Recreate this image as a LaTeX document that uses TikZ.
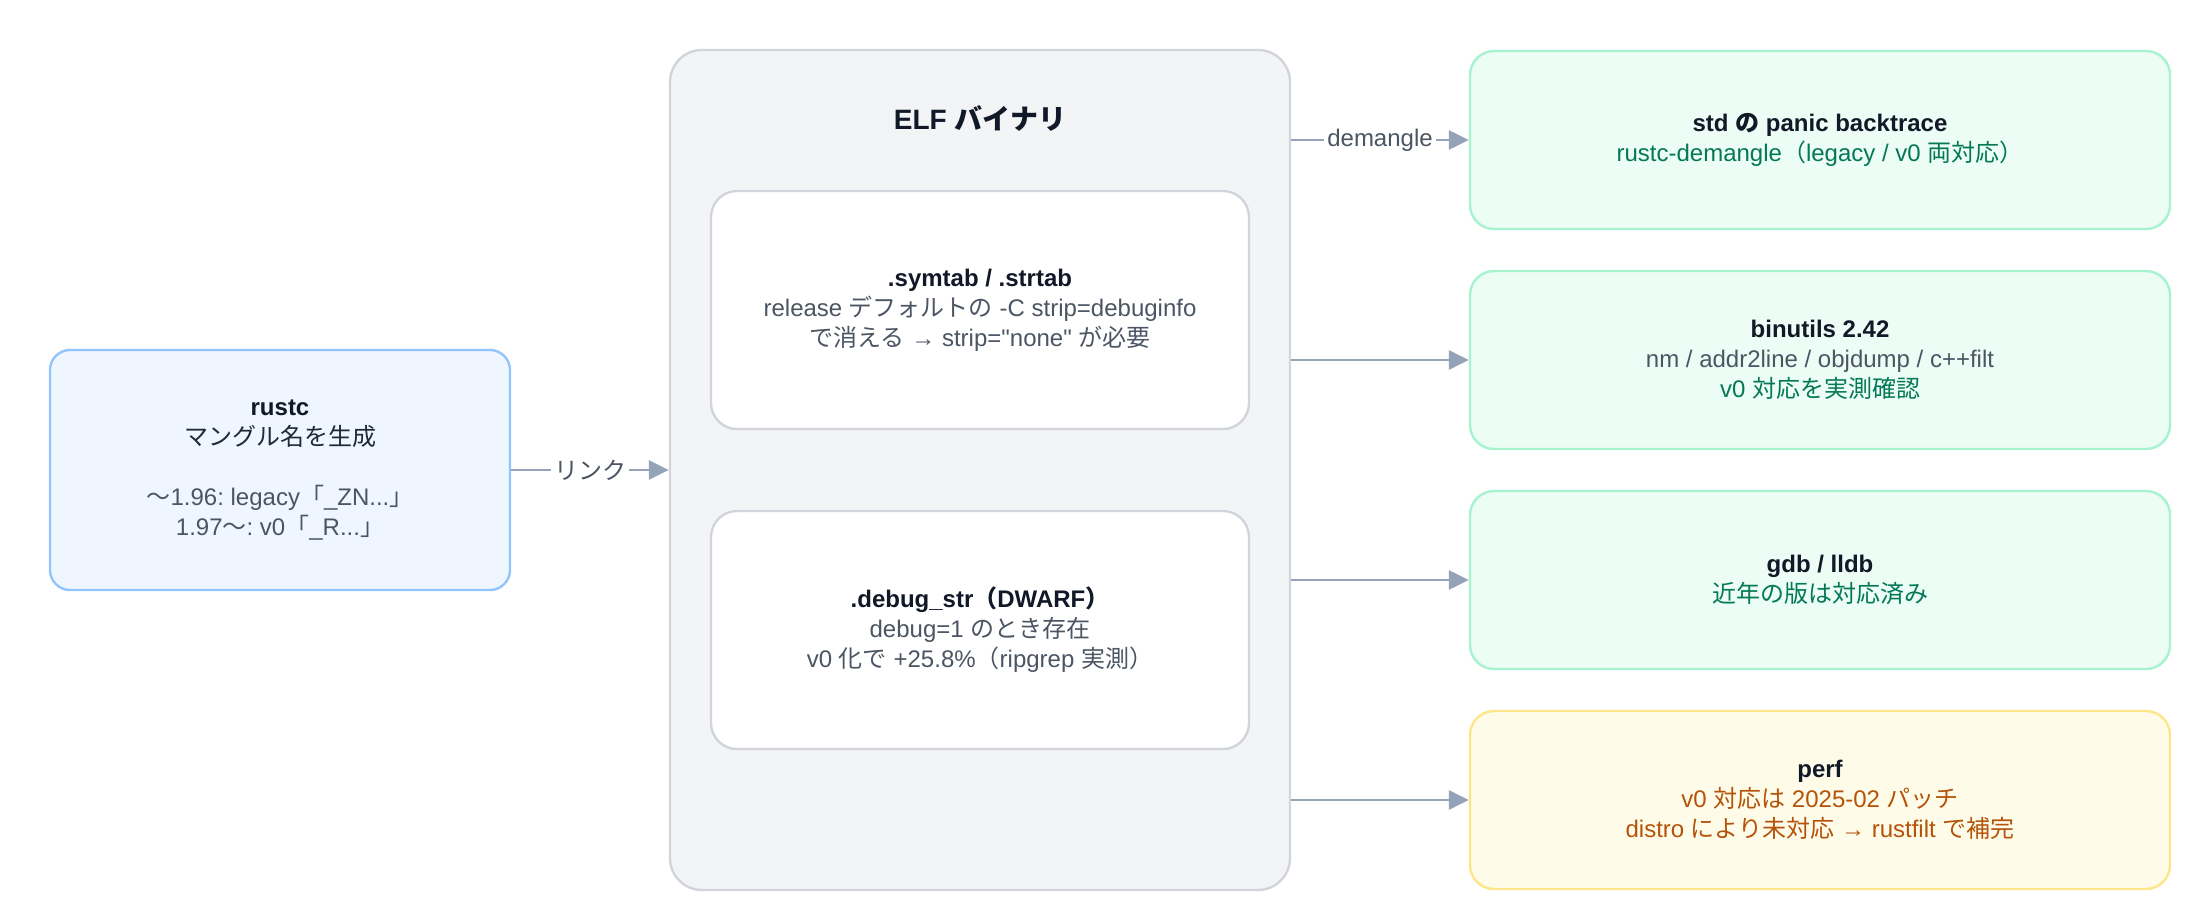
\documentclass[tikz,border=0pt]{standalone}
\usepackage{fontspec}
\setmainfont{Liberation Sans}
\newfontfamily\jpfont{Noto Sans CJK JP}
\usepackage{xcolor}
\usetikzlibrary{arrows.meta, positioning}

\definecolor{titlecol}{HTML}{111827}
\definecolor{darkcol}{HTML}{1F2937}
\definecolor{bodycol}{HTML}{4B5563}
\definecolor{okgreen}{HTML}{047857}
\definecolor{warnamber}{HTML}{B45309}
\definecolor{arrowcol}{HTML}{94A3B8}

\newcommand\ja[1]{{\jpfont #1}}
\newcommand\boxtitle[1]{\textcolor{titlecol}{\bfseries #1}}
\frenchspacing

\begin{document}
\begin{tikzpicture}[x=0.5pt, y=-0.5pt, on grid,
    every node/.style={font=\fontsize{12}{15}\selectfont, text=bodycol, align=center},
    srcbox/.style={draw={rgb,255:red,147;green,197;blue,253}, fill={rgb,255:red,239;green,246;blue,255},
        line width=1.2pt, rounded corners=10pt, minimum width=230pt, minimum height=120pt},
    elfgroup/.style={draw={rgb,255:red,209;green,213;blue,219}, fill={rgb,255:red,243;green,244;blue,246},
        line width=1.2pt, rounded corners=16pt, minimum width=310pt, minimum height=420pt},
    secbox/.style={draw={rgb,255:red,209;green,213;blue,219}, fill=white,
        line width=1.2pt, rounded corners=13pt, minimum width=269pt, minimum height=119pt},
    toolbox/.style={draw={rgb,255:red,167;green,243;blue,208}, fill={rgb,255:red,236;green,253;blue,245},
        line width=1.2pt, rounded corners=12pt, minimum width=350pt, minimum height=89pt},
    warnbox/.style={toolbox, draw={rgb,255:red,253;green,230;blue,138}, fill={rgb,255:red,254;green,252;blue,232}},
    flow/.style={draw=arrowcol, line width=1.4pt, -{Triangle[length=10pt, width=9.5pt]}},
    elabel/.style={midway, fill=white, inner sep=1.5pt}]

    \useasboundingbox (0,0) rectangle (2198,918);

    \node[srcbox] (rustc) at (280,470)
        {\boxtitle{rustc}\\ \textcolor{darkcol}{\ja{マングル名を生成}}\\[15pt]
         \ja{～}1.96: legacy\ja{「}\_ZN...\ja{」}\\ 1.97\ja{～}: v0\ja{「}\_R...\ja{」}};
    \node[elfgroup] (elf) [right=350pt of rustc] {};
    \node (elftitle) [below=25pt of elf.north]
        {\fontsize{14}{17}\selectfont\boxtitle{ELF \ja{バイナリ}}};
    \node[secbox] (symtab) [above=80pt of elf]
        {\boxtitle{.symtab / .strtab}\\ release \ja{デフォルトの} -C strip=debuginfo\\
         \ja{で消える} → strip=\textquotedbl none\textquotedbl{} \ja{が必要}};
    \node[secbox] (dwarf) [below=80pt of elf]
        {\boxtitle{.debug\_str\ja{（}DWARF\ja{）}}\\ debug=1 \ja{のとき存在}\\
         v0 \ja{化で} +25.8\%\ja{（}ripgrep \ja{実測）}};

    \node[toolbox] (panic) at (1820,140)
        {\boxtitle{std \ja{の} panic backtrace}\\ \textcolor{okgreen}{rustc-demangle\ja{（}legacy / v0 \ja{両対応）}}};
    \node[toolbox] (binutils) [below=110pt of panic]
        {\boxtitle{binutils 2.42}\\ nm / addr2line / objdump / c++filt\\ \textcolor{okgreen}{v0 \ja{対応を実測確認}}};
    \node[toolbox] (gdb) [below=110pt of binutils]
        {\boxtitle{gdb / lldb}\\ \textcolor{okgreen}{\ja{近年の版は対応済み}}};
    \node[warnbox] (perf) [below=110pt of gdb]
        {\boxtitle{perf}\\ \textcolor{warnamber}{v0 \ja{対応は} 2025-02 \ja{パッチ}}\\
         \textcolor{warnamber}{distro \ja{により未対応} → rustfilt \ja{で補完}}};

    \path[flow] (rustc.east) -- node[elabel] {\ja{リンク}} (elf.west);
    \path[flow] (elf.east |- panic.west) -- node[elabel] {demangle} (panic.west);
    \path[flow] (elf.east |- binutils.west) -- (binutils.west);
    \path[flow] (elf.east |- gdb.west) -- (gdb.west);
    \path[flow] (elf.east |- perf.west) -- (perf.west);
\end{tikzpicture}
\end{document}
